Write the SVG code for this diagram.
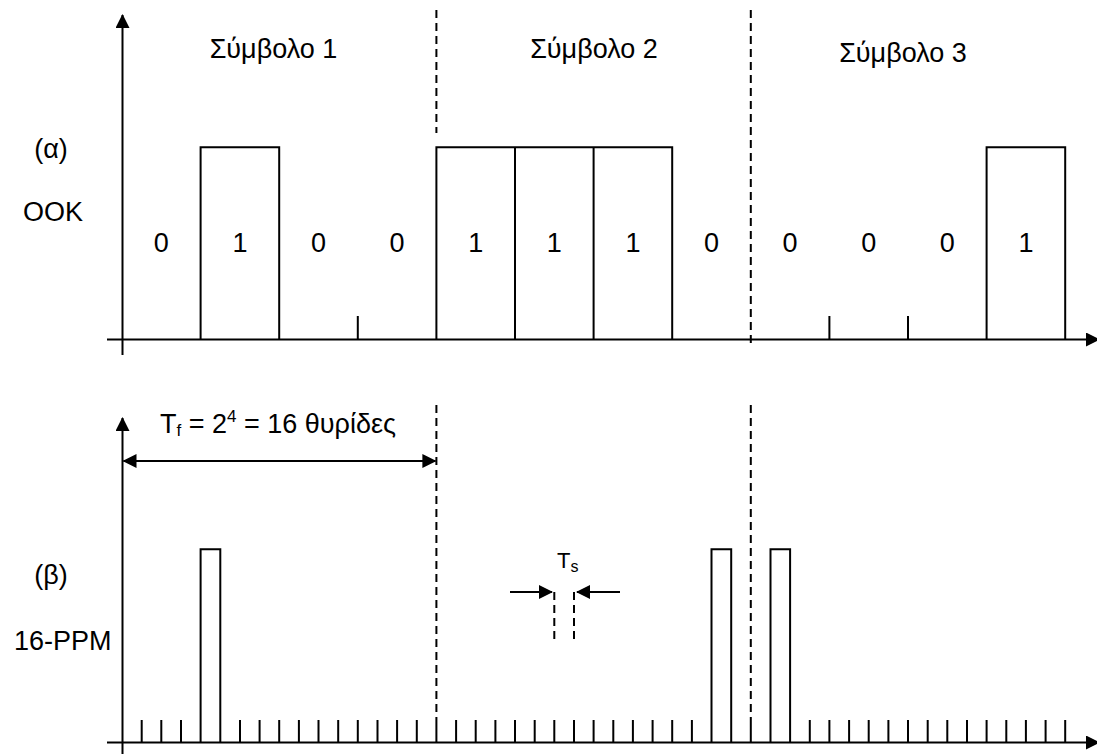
<svg xmlns="http://www.w3.org/2000/svg" width="1097" height="754" viewBox="0 0 1097 754">
<style>
text{font-family:"Liberation Sans",Arial,sans-serif;fill:#000}
.t{font-size:27px}
.m{text-anchor:middle}
.ln{stroke:#000;stroke-width:2;fill:none}
.d{stroke:#000;stroke-width:2;fill:none;stroke-dasharray:8,5}
.p{stroke:#000;stroke-width:2;fill:none}
</style>
<defs>
<marker id="ah" viewBox="0 0 14 14" refX="13" refY="7" markerWidth="14" markerHeight="14" markerUnits="userSpaceOnUse" orient="auto-start-reverse">
<path d="M0,0 L14,7 L0,14 z" fill="#000"/>
</marker>
</defs>
<rect width="1097" height="754" fill="#fff"/>
<g id="axes">
<line class="ln" x1="122.5" y1="355" x2="122.5" y2="15" marker-end="url(#ah)"/>
<line class="ln" x1="107" y1="339.5" x2="1099" y2="339.5" marker-end="url(#ah)"/>
<line class="ln" x1="122.5" y1="754" x2="122.5" y2="418" marker-end="url(#ah)"/>
<line class="ln" x1="107" y1="742.5" x2="1099" y2="742.5" marker-end="url(#ah)"/>
</g>
<g id="separators">
<line class="d" x1="436.4" y1="10" x2="436.4" y2="133"/>
<line class="d" x1="750.8" y1="10" x2="750.8" y2="347"/>
<line class="d" x1="436.4" y1="405" x2="436.4" y2="720"/>
<line class="d" x1="750.8" y1="405" x2="750.8" y2="720"/>
</g>
<g id="ook-pulses">
<path class="p" d="M200.6,339.5 V147.3 H279.2 V339.5"/>
<path class="p" d="M436.4,339.5 V147.3 H672.2 V339.5 M515,147.3 V339.5 M593.6,147.3 V339.5"/>
<path class="p" d="M986.6,339.5 V147.3 H1065.2 V339.5"/>
<path class="p" d="M357.8,316 V339.5 M829.4,316 V339.5 M908,316 V339.5"/>
</g>
<g id="ook-bits" class="t m">
<text x="161.3" y="251.7">0</text>
<text x="239.9" y="251.7">1</text>
<text x="318.5" y="251.7">0</text>
<text x="397.1" y="251.7">0</text>
<text x="475.7" y="251.7">1</text>
<text x="554.3" y="251.7">1</text>
<text x="632.9" y="251.7">1</text>
<text x="711.5" y="251.7">0</text>
<text x="790.1" y="251.7">0</text>
<text x="868.7" y="251.7">0</text>
<text x="947.3" y="251.7">0</text>
<text x="1025.9" y="251.7">1</text>
</g>
<g id="symbol-labels" class="t m">
<text x="273.5" y="58.3">Σύμβολο 1</text>
<text x="594" y="58.3">Σύμβολο 2</text>
<text x="903" y="61.7">Σύμβολο 3</text>
</g>
<g id="row-labels" class="t">
<text x="51" y="158" class="m">(α)</text>
<text x="53" y="220.7" class="m">OOK</text>
<text x="51" y="584" class="m">(β)</text>
<text x="14" y="650">16-PPM</text>
</g>
<g id="ppm-pulses">
<path class="p" d="M200.6,742.5 V549.3 H220.3 V742.5"/>
<path class="p" d="M711.5,742.5 V549.3 H731.2 V742.5"/>
<path class="p" d="M770.5,742.5 V549.3 H790.1 V742.5"/>
<path class="p" d="M141.7,720V742.5 M161.3,720V742.5 M181,720V742.5 M240,720V742.5 M259.6,720V742.5 M279.2,720V742.5 M298.9,720V742.5 M318.5,720V742.5 M338.2,720V742.5 M357.8,720V742.5 M377.5,720V742.5 M397.1,720V742.5 M416.8,720V742.5 M436.4,720V742.5 M456.1,720V742.5 M475.7,720V742.5 M495.4,720V742.5 M515,720V742.5 M534.7,720V742.5 M554.3,720V742.5 M574,720V742.5 M593.6,720V742.5 M613.3,720V742.5 M632.9,720V742.5 M652.6,720V742.5 M672.2,720V742.5 M691.9,720V742.5 M750.8,720V742.5 M809.8,720V742.5 M829.4,720V742.5 M849.1,720V742.5 M868.7,720V742.5 M888.4,720V742.5 M908,720V742.5 M927.7,720V742.5 M947.3,720V742.5 M967,720V742.5 M986.6,720V742.5 M1006.3,720V742.5 M1025.9,720V742.5 M1045.6,720V742.5 M1065.2,720V742.5"/>
</g>
<g id="tf">
<line class="ln" x1="123.5" y1="461" x2="435.4" y2="461" marker-start="url(#ah)" marker-end="url(#ah)"/>
<text x="160" y="433" class="t">T<tspan font-size="17" dy="3">f</tspan><tspan dy="-3"> = 2</tspan><tspan font-size="17" dy="-11">4</tspan><tspan dy="11"> = 16 θυρίδες</tspan></text>
</g>
<g id="ts">
<line class="d" x1="554.3" y1="592" x2="554.3" y2="643"/>
<line class="d" x1="574" y1="592" x2="574" y2="643"/>
<line class="ln" x1="510" y1="592" x2="552" y2="592" marker-end="url(#ah)"/>
<line class="ln" x1="620" y1="592" x2="577" y2="592" marker-end="url(#ah)"/>
<text x="557" y="568" font-size="22">T<tspan font-size="16" dy="4">s</tspan></text>
</g>
</svg>
